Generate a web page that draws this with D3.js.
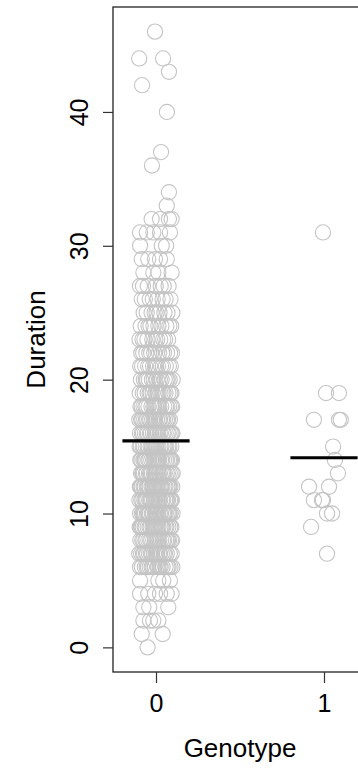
<!DOCTYPE html>
<html>
<head>
<meta charset="utf-8">
<script src="https://cdn.jsdelivr.net/npm/d3@7"></script>
<style>
  html, body { margin: 0; padding: 0; background: #fff; }
  svg { display: block; }
  text { font-family: "Liberation Sans", Arial, Helvetica, sans-serif; fill: #000; }
</style>
</head>
<body>
<svg id="chart" width="358" height="771"></svg>
<script>
// Genotype groups and y-axis ticks
const genotypes = [0, 1];
const yTicks = [0, 10, 20, 30, 40];

// Genotype 0: well-populated durations given as counts per level
const denseLevels0 = [6, 7, 8, 9, 10, 11, 12, 13, 14, 15, 16, 17, 18, 19, 20, 21, 22, 23, 24, 25, 26, 27];
const denseCounts0 = [18, 20, 22, 24, 26, 26, 26, 25, 24, 23, 22, 20, 19, 17, 15, 14, 12, 11, 10, 9, 8, 7];

// Genotype 0: sparse observations (duration, jittered genotype)
const sparseDuration0 = [
  46, 44, 44, 43, 42, 40, 37, 36, 34, 33,
  32, 32, 32, 32, 31, 31, 31, 31, 31, 30, 30, 30,
  29, 29, 29, 29, 29, 28, 28, 28, 28,
  5, 5, 5, 5, 4, 4, 4, 4, 4, 4, 3, 3, 3, 2, 2, 2, 2, 1, 1, 0
];
const sparseGenotype0 = [
  -0.006, -0.100, 0.042, 0.077, -0.083, 0.065, 0.030, -0.024, 0.077, 0.064,
  -0.026, 0.024, 0.077, 0.093, -0.095, -0.055, -0.016, 0.024, 0.083, -0.095, 0.034, 0.060,
  -0.085, -0.046, -0.006, 0.024, 0.064, -0.075, -0.016, 0.014, 0.093,
  -0.095, 0.014, 0.043, 0.083, -0.095, -0.046, -0.006, 0.024, 0.064, 0.093,
  -0.075, -0.040, 0.073, -0.075, -0.036, -0.016, 0.014, -0.085, 0.040, -0.050
];

// Genotype 1 observations (duration, jittered genotype)
const duration1 = [31, 19, 19, 17, 17, 17, 15, 14, 13, 12, 12, 11, 11, 11, 10, 10, 9, 7];
const genotype1 = [0.994, 1.012, 1.089, 0.940, 1.089, 1.100, 1.054, 1.065, 1.083, 0.911, 1.030, 0.940, 0.988, 0.994, 1.018, 1.048, 0.923, 1.018];

// Assemble point records
const points = [];
let k = 0;
denseLevels0.forEach((v, i) => {
  for (let j = 0; j < denseCounts0[i]; j++) {
    // evenly spread horizontal jitter within +/-0.1 (golden-ratio sequence)
    const u = ((k++) * 0.6180339887 + 0.37) % 1;
    points.push({ g: 0, x: (u - 0.5) * 0.2, dur: v });
  }
});
sparseDuration0.forEach((v, i) => points.push({ g: 0, x: sparseGenotype0[i], dur: v }));
duration1.forEach((v, i) => points.push({ g: 1, x: genotype1[i], dur: v }));

const means = genotypes.map(g => ({ g, m: d3.mean(points.filter(p => p.g === g), p => p.dur) }));

// Layout
const plotLeft = 113, plotRight = 367, plotTop = 7, plotBottom = 672;
const x = d3.scaleLinear().domain([-0.256, 1.256]).range([plotLeft, plotRight]);
const y = d3.scaleLinear().domain([-1.84, 47.84]).range([plotBottom, plotTop]);

const svg = d3.select("#chart");

// Points
svg.append("g")
  .selectAll("circle")
  .data(points)
  .join("circle")
  .attr("cx", d => x(d.x))
  .attr("cy", d => y(d.dur))
  .attr("r", 7.6)
  .attr("fill", "none")
  .attr("stroke", "#c4c4c4")
  .attr("stroke-width", 1.1);

// Group means
svg.append("g")
  .selectAll("line")
  .data(means)
  .join("line")
  .attr("x1", d => x(d.g - 0.2))
  .attr("x2", d => x(d.g + 0.2))
  .attr("y1", d => y(d.m))
  .attr("y2", d => y(d.m))
  .attr("stroke", "#000")
  .attr("stroke-width", 3.2);

// Plot frame
svg.append("rect")
  .attr("x", plotLeft).attr("y", plotTop)
  .attr("width", plotRight - plotLeft).attr("height", plotBottom - plotTop)
  .attr("fill", "none").attr("stroke", "#222").attr("stroke-width", 1.3);

// Y axis
const yAxis = svg.append("g")
  .attr("transform", `translate(${plotLeft},0)`)
  .call(d3.axisLeft(y).tickValues(yTicks).tickSize(10).tickFormat(d3.format("d")));
yAxis.select(".domain").remove();
yAxis.selectAll(".tick line").attr("stroke", "#333").attr("stroke-width", 1.2);
yAxis.selectAll(".tick text")
  .attr("x", 0).attr("y", 0).attr("dy", null)
  .attr("transform", "translate(-25,0) rotate(-90)")
  .attr("text-anchor", "middle")
  .style("font-size", "25px")
  .style("font-family", "Liberation Sans, Arial, sans-serif")
  .attr("fill", "#000");

// X axis
const xAxis = svg.append("g")
  .attr("transform", `translate(0,${plotBottom})`)
  .call(d3.axisBottom(x).tickValues(genotypes).tickSize(11).tickFormat(d3.format("d")));
xAxis.select(".domain").remove();
xAxis.selectAll(".tick line").attr("stroke", "#333").attr("stroke-width", 1.2);
xAxis.selectAll(".tick text")
  .attr("y", 40).attr("dy", null)
  .style("font-size", "25px")
  .style("font-family", "Liberation Sans, Arial, sans-serif")
  .attr("fill", "#000");

// Axis titles
svg.append("text")
  .attr("x", (plotLeft + plotRight) / 2).attr("y", 757)
  .attr("text-anchor", "middle")
  .style("font-size", "26px")
  .text("Genotype");

svg.append("text")
  .attr("transform", `translate(45,${(plotTop + plotBottom) / 2}) rotate(-90)`)
  .attr("text-anchor", "middle")
  .style("font-size", "26px")
  .text("Duration");
</script>
</body>
</html>
